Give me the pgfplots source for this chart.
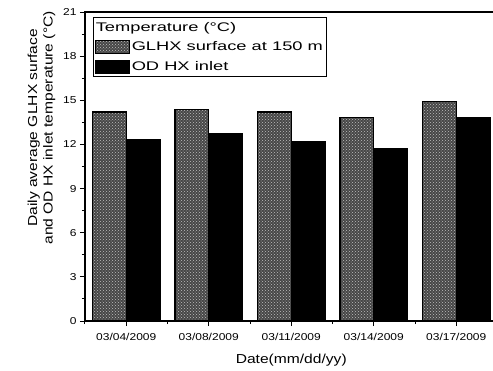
\documentclass[border=0pt]{standalone}
\usepackage{pgfplots}
\pgfplotsset{compat=1.18}
\usepackage{fontspec}
\setmainfont{Liberation Sans}[FakeStretch=1.2]
\newcommand{\sx}[1]{\scalebox{1.22}[1]{#1}}
\usetikzlibrary{patterns}
\begin{document}
\begin{tikzpicture}[x=1pt,y=1pt]
\path[use as bounding box] (-85,-49) rectangle (408,321);
\clip (-85,-49) rectangle (408,321);
\begin{axis}[
  at={(0,0)}, anchor=south west,
  scale only axis, width=412.5pt, height=309pt,
  xmin=-0.5, xmax=4.5, ymin=0, ymax=21,
  xtick={0,1,2,3,4},
  xticklabels={03/04/2009,03/08/2009,03/11/2009,03/14/2009,03/17/2009},
  minor xtick={-0.5,0.5,1.5,2.5,3.5},
  ytick={0,3,6,9,12,15,18,21},
  minor ytick={1.5,4.5,7.5,10.5,13.5,16.5,19.5},
  xtick pos=bottom, ytick pos=left,
  tick align=outside,
  major tick length=5pt, minor tick length=3pt,
  every tick/.style={black, line width=1pt},
  axis line style={line width=1.6pt},
  /pgf/number format/assume math mode=true,
  tick label style={font=\fontsize{10}{12}\selectfont},
  xticklabel style={yshift=-4pt},
  xlabel={Date(mm/dd/yy)},
  ylabel={Daily average GLHX surface\\and OD HX inlet temperature (°C)},
  label style={font=\fontsize{13}{15.5}\selectfont},
  ylabel style={align=center, at={(ticklabel cs:0.625)}, yshift=1pt},
  xlabel style={yshift=-6pt},
  ybar, bar width=0.41,
  legend style={at={(rel axis cs:0.02,0.985)}, anchor=north west, draw=black, line width=1pt,
    font=\fontsize{12.5}{15}\selectfont, inner xsep=1.5pt, inner ysep=3pt, row sep=5pt, cells={anchor=west}},
  legend cell align=left,
  legend image code/.code={\draw[#1, line width=0.5pt] (0pt,-6.5pt) rectangle (34pt,6.5pt);},
]
\addlegendimage{empty legend}
\addlegendentry{\hspace*{-36pt}\sx{Temperature (°C)}}
\addplot[bar shift=-0.205, draw=black, fill=black!72, line width=1.2pt,
  postaction={pattern=crosshatch dots, pattern color=black!25}]
  coordinates {(0,14.2) (1,14.4) (2,14.2) (3,13.85) (4,14.9)};
\addlegendentry{\sx{GLHX surface at 150 m}}
\addplot[bar shift=0.205, draw=black, fill=black, line width=1.2pt]
  coordinates {(0,12.3) (1,12.75) (2,12.2) (3,11.7) (4,13.8)};
\addlegendentry{\sx{OD HX inlet}}
\end{axis}
\end{tikzpicture}
\end{document}
